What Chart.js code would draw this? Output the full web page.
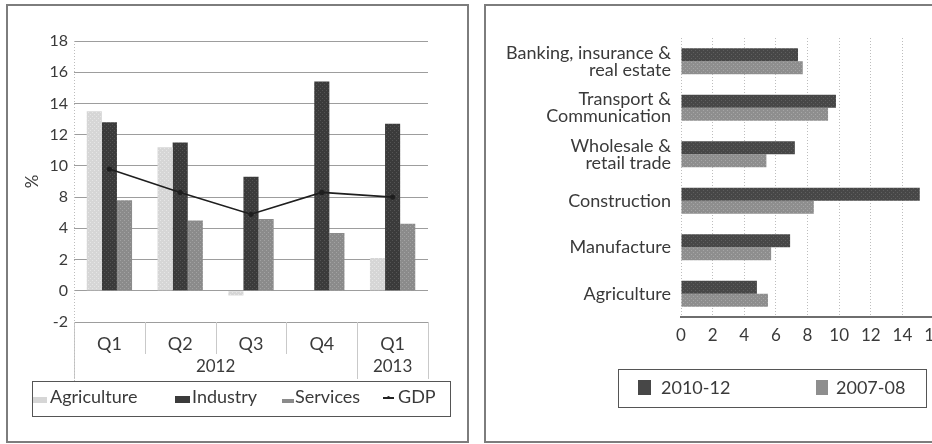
<!DOCTYPE html>
<html>
<head>
<meta charset="utf-8">
<title>Sector growth</title>
<script src="https://cdn.jsdelivr.net/npm/chart.js@4.4.1/dist/chart.umd.min.js"></script>
<style>
  html, body {
    margin: 0;
    padding: 0;
    background: #fff;
    font-family: Lato, "Open Sans", sans-serif;
    color: #3a3a3a;
  }
  #page {
    position: relative;
    width: 932px;
    height: 444px;
    overflow: hidden;
  }
  .panel {
    position: absolute;
    box-sizing: border-box;
    border: 2px solid #7d7d7d;
  }
  #growthPanel { left: 6px; top: 4px; width: 463px; height: 439px; }
  #sectorPanel { left: 484px; top: 4px; width: 448px; height: 439px; border-right: none; }
  .chart-box { position: absolute; top: 0; height: 444px; }
  #growthBox { left: 0; width: 476px; }
  #sectorBox { left: 485px; width: 475px; }
  .legend {
    position: absolute;
    box-sizing: border-box;
    border: 1.5px solid #555;
  }
  .key, .swatch { position: absolute; }
  .key { white-space: nowrap; line-height: 20px; }
</style>
</head>
<body>
<div id="page">
<div class="panel" id="growthPanel"></div>
<div class="panel" id="sectorPanel"></div>

<div class="chart-box" id="growthBox"><canvas id="growthChart"></canvas></div>
<div class="chart-box" id="sectorBox"><canvas id="sectorChart"></canvas></div>

<div class="legend" style="left:32px; top:381px; width:419px; height:36px;"></div>
<div class="swatch" id="swAgri" style="left:33px; top:397px; width:14px; height:6px;"></div>
<span class="key" style="left:50px; top:386px; font-size:18px;">Agriculture</span>
<div class="swatch" id="swInd" style="left:175px; top:396px; width:15px; height:7px;"></div>
<span class="key" style="left:192px; top:386px; font-size:18px;">Industry</span>
<div class="swatch" id="swServ" style="left:282px; top:399px; width:12px; height:4px;"></div>
<span class="key" style="left:295px; top:386px; font-size:18px;">Services</span>
<div class="swatch" style="left:383px; top:397px; width:11px; height:1.5px; background:#222;"></div>
<div class="swatch" style="left:387px; top:396px; width:3px; height:3px; background:#222; border-radius:50%;"></div>
<span class="key" style="left:398px; top:386px; font-size:18px;">GDP</span>

<div class="legend" style="left:618px; top:369px; width:309px; height:39px;"></div>
<div class="swatch" id="swRecent" style="left:638px; top:380px; width:13px; height:15px;"></div>
<span class="key" style="left:661px; top:377px; font-size:18px;">2010-12</span>
<div class="swatch" id="swEarlier" style="left:816px; top:380px; width:12px; height:15px;"></div>
<span class="key" style="left:836px; top:377px; font-size:18px;">2007-08</span>
</div>

<script>
// Quarterly growth by sector (left panel)
const quarters = ["Q1", "Q2", "Q3", "Q4", "Q1"];
const yearGroups = [
  { year: "2012", first: 0, last: 3 },
  { year: "2013", first: 4, last: 4 },
];
// the printed axis runs 0, 2, 4 and then jumps to 8, so the
// evenly spaced gridlines carry these labels from -2 upwards
const growthTickLabels = ["-2", "0", "2", "4", "8", "10", "12", "14", "16", "18"];
const agriculture = [11.5, 9.2, -0.3, 0, 2.1];
const industry = [10.8, 9.5, 7.3, 13.4, 10.7];
const services = [5.8, 4.5, 4.6, 3.7, 4.3];
const gdp = [7.8, 6.3, 4.9, 6.3, 6.0];

// Average growth by sector, two periods (right panel)
const sectors = [
  ["Banking, insurance &", "real estate"],
  ["Transport &", "Communication"],
  ["Wholesale &", "retail trade"],
  "Construction",
  "Manufacture",
  "Agriculture",
];
const growth2010to12 = [7.4, 9.8, 7.2, 15.1, 6.9, 4.8];
const growth2007to08 = [7.7, 9.3, 5.4, 8.4, 5.7, 5.5];

const inkColor = "#3a3a3a";
const fontFamily = "Lato, 'Open Sans', sans-serif";

// small halftone-like tiles for the bar fills
function texture(base, fleck) {
  const tile = document.createElement("canvas");
  tile.width = 4;
  tile.height = 4;
  const g = tile.getContext("2d");
  g.fillStyle = base;
  g.fillRect(0, 0, 4, 4);
  g.fillStyle = fleck;
  g.fillRect(0, 0, 1, 1);
  g.fillRect(2, 2, 1, 1);
  return g.createPattern(tile, "repeat");
}

const fills = {
  agriculture: ["#d6d6d6", "#e6e6e6"],
  industry: ["#3b3b3b", "#545454"],
  services: ["#8b8b8b", "#a2a2a2"],
  recent: ["#474747", "#5f5f5f"],
  earlier: ["#8e8e8e", "#a6a6a6"],
};

function paintSwatch(id, pair) {
  document.getElementById(id).style.background = pair[0];
}
paintSwatch("swAgri", fills.agriculture);
paintSwatch("swInd", fills.industry);
paintSwatch("swServ", fills.services);
paintSwatch("swRecent", fills.recent);
paintSwatch("swEarlier", fills.earlier);

// category dividers below the plot plus the year row
const quarterAxisDecor = {
  id: "quarterAxisDecor",
  afterDraw(chart) {
    const { ctx, chartArea } = chart;
    const x = chart.scales.x;
    const n = quarters.length;
    const bottom = chartArea.bottom;
    const groupEdges = new Set();
    yearGroups.forEach((g) => {
      groupEdges.add(g.first);
      groupEdges.add(g.last + 1);
    });

    ctx.save();
    ctx.strokeStyle = "#c9c9c9";
    ctx.lineWidth = 1;
    for (let i = 0; i <= n; i++) {
      let px;
      if (i === 0) px = chartArea.left;
      else if (i === n) px = chartArea.right;
      else px = (x.getPixelForValue(i - 1) + x.getPixelForValue(i)) / 2;
      const depth = groupEdges.has(i) ? 57 : 32;
      ctx.beginPath();
      ctx.moveTo(Math.round(px) + 0.5, bottom);
      ctx.lineTo(Math.round(px) + 0.5, bottom + depth);
      ctx.stroke();
    }

    // faint dotted value axis running down past the labels
    ctx.setLineDash([1, 2]);
    ctx.strokeStyle = "#bdbdbd";
    ctx.beginPath();
    ctx.moveTo(chartArea.left + 0.5, chartArea.top);
    ctx.lineTo(chartArea.left + 0.5, bottom + 60);
    ctx.stroke();
    ctx.setLineDash([]);

    ctx.fillStyle = inkColor;
    ctx.font = `17px ${fontFamily}`;
    ctx.textAlign = "center";
    ctx.textBaseline = "middle";
    yearGroups.forEach((g) => {
      const cx = (x.getPixelForValue(g.first) + x.getPixelForValue(g.last)) / 2;
      ctx.fillText(g.year, cx, bottom + 45);
    });
    ctx.restore();
  },
};

new Chart(document.getElementById("growthChart"), {
  type: "bar",
  data: {
    labels: quarters,
    datasets: [
      {
        label: "Agriculture",
        data: agriculture,
        backgroundColor: texture(...fills.agriculture),
        order: 1,
      },
      {
        label: "Industry",
        data: industry,
        backgroundColor: texture(...fills.industry),
        order: 1,
      },
      {
        label: "Services",
        data: services,
        backgroundColor: texture(...fills.services),
        order: 1,
      },
      {
        label: "GDP",
        type: "line",
        data: gdp,
        borderColor: "#1f1f1f",
        backgroundColor: "#1f1f1f",
        borderWidth: 1.6,
        pointRadius: 1.8,
        tension: 0,
        order: 0,
      },
    ],
  },
  options: {
    responsive: true,
    maintainAspectRatio: false,
    animation: false,
    layout: { padding: { top: 41, right: 48, bottom: 64, left: 0 } },
    datasets: { bar: { categoryPercentage: 0.64, barPercentage: 1 } },
    plugins: { legend: { display: false }, tooltip: { enabled: false } },
    scales: {
      x: {
        grid: { display: false, drawTicks: false },
        border: { display: false },
        ticks: {
          color: inkColor,
          font: { family: fontFamily, size: 18 },
          padding: 11,
        },
        afterFit(scale) {
          scale.height = 58;
        },
      },
      y: {
        min: -2,
        max: 16,
        grid: { color: "#9d9d9d", lineWidth: 1, drawTicks: false },
        border: { display: false },
        ticks: {
          stepSize: 2,
          color: inkColor,
          font: { family: fontFamily, size: 16 },
          padding: 6,
          callback: (value) => growthTickLabels[(value + 2) / 2],
        },
        title: {
          display: true,
          text: "%",
          color: inkColor,
          font: { family: fontFamily, size: 17 },
          padding: { top: 22, bottom: 0 },
        },
        afterFit(scale) {
          scale.width = 74;
        },
      },
    },
  },
  plugins: [quarterAxisDecor],
});

new Chart(document.getElementById("sectorChart"), {
  type: "bar",
  data: {
    labels: sectors,
    datasets: [
      {
        label: "2010-12",
        data: growth2010to12,
        backgroundColor: texture(...fills.recent),
      },
      {
        label: "2007-08",
        data: growth2007to08,
        backgroundColor: texture(...fills.earlier),
      },
    ],
  },
  options: {
    indexAxis: "y",
    responsive: true,
    maintainAspectRatio: false,
    animation: false,
    layout: { padding: { top: 38, right: 26, bottom: 97, left: 0 } },
    datasets: { bar: { categoryPercentage: 0.56, barPercentage: 1 } },
    plugins: { legend: { display: false }, tooltip: { enabled: false } },
    scales: {
      x: {
        min: 0,
        max: 16,
        grid: { color: "#bdbdbd", lineWidth: 1, drawTicks: false },
        border: { display: true, color: "#6e6e6e", width: 2, dash: [1, 2] },
        ticks: {
          stepSize: 2,
          color: inkColor,
          font: { family: fontFamily, size: 17 },
          padding: 8,
        },
        afterFit(scale) {
          scale.height = 30;
        },
      },
      y: {
        grid: { display: false, drawTicks: false },
        border: { display: false },
        ticks: {
          color: inkColor,
          font: { family: fontFamily, size: 18, lineHeight: 0.95 },
          padding: 10,
        },
        afterFit(scale) {
          scale.width = 196;
        },
      },
    },
  },
});
</script>
</body>
</html>
